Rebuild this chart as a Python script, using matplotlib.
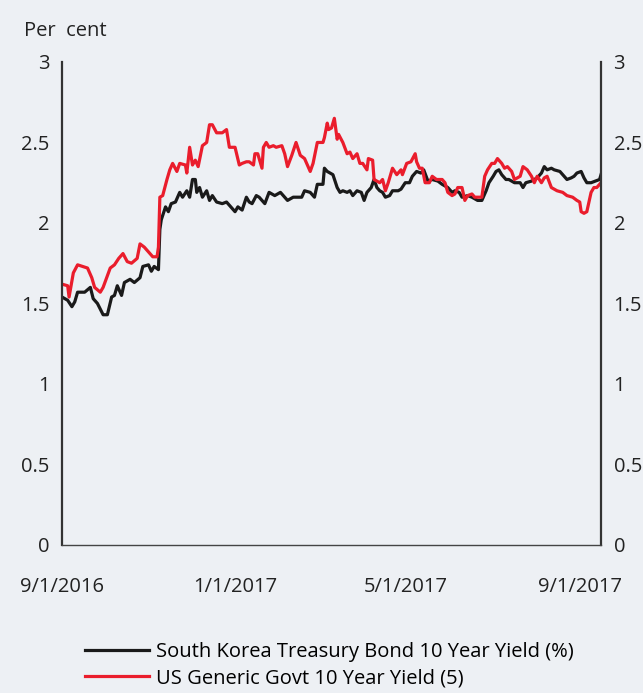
import matplotlib
matplotlib.use('Agg')
import matplotlib.pyplot as plt

# days since 9/1/2016 and yields
korea_days = [0, 4, 7, 9, 11, 16, 20, 22, 25, 29, 32, 35, 37, 39, 42, 44, 48, 51, 55, 57,
              61, 63, 65, 68, 69, 70, 73, 75, 77, 80, 83, 85, 88, 90, 92, 94, 95, 97, 99, 102,
              104, 106, 109, 113, 116, 120, 122, 124, 127, 130, 132, 134, 137, 139, 143, 146, 150, 154, 157, 159,
              163, 166, 169, 171, 175, 178, 180, 184, 185, 187, 191, 194, 196, 198, 201, 203, 205, 208, 211, 213,
              215, 218, 220, 222, 224, 226, 228, 231, 233, 237, 239, 242, 245, 247, 250, 253, 255, 258, 261, 265,
              268, 272, 275, 277, 280, 282, 286, 289, 293, 296, 299, 301, 304, 306, 308, 310, 313, 315, 319, 323,
              325, 327, 331, 333, 335, 338, 340, 342, 345, 347, 351, 354, 356, 359, 361, 363, 366, 368, 370, 373,
              376, 379, 380]
korea_yield = [1.54, 1.52, 1.48, 1.51, 1.57, 1.57, 1.60, 1.53, 1.50, 1.43, 1.43, 1.54, 1.55, 1.61, 1.55, 1.63, 1.65, 1.63, 1.66, 1.73,
               1.74, 1.70, 1.73, 1.71, 1.96, 2.02, 2.10, 2.07, 2.12, 2.13, 2.19, 2.16, 2.20, 2.16, 2.27, 2.27, 2.19, 2.22, 2.16, 2.20,
               2.14, 2.17, 2.13, 2.12, 2.13, 2.09, 2.07, 2.10, 2.08, 2.16, 2.13, 2.12, 2.17, 2.16, 2.12, 2.19, 2.17, 2.19, 2.16, 2.14,
               2.16, 2.16, 2.16, 2.20, 2.19, 2.16, 2.24, 2.24, 2.34, 2.32, 2.30, 2.22, 2.19, 2.20, 2.19, 2.20, 2.17, 2.20, 2.19, 2.14,
               2.19, 2.22, 2.27, 2.22, 2.20, 2.19, 2.16, 2.17, 2.20, 2.20, 2.21, 2.25, 2.25, 2.29, 2.32, 2.31, 2.33, 2.26, 2.27, 2.26,
               2.24, 2.22, 2.19, 2.20, 2.19, 2.16, 2.17, 2.16, 2.14, 2.14, 2.20, 2.25, 2.29, 2.32, 2.33, 2.30, 2.27, 2.27, 2.25, 2.25,
               2.22, 2.25, 2.26, 2.27, 2.28, 2.31, 2.35, 2.33, 2.34, 2.33, 2.32, 2.29, 2.27, 2.28, 2.29, 2.31, 2.32, 2.28, 2.25, 2.25,
               2.26, 2.27, 2.30]

us_days = [0, 4, 5, 8, 11, 18, 21, 23, 27, 29, 34, 37, 40, 43, 46, 49, 53, 55, 58, 61,
           64, 67, 68, 69, 71, 74, 76, 78, 81, 83, 87, 88, 90, 92, 94, 96, 99, 102, 104, 106,
           109, 113, 116, 118, 122, 125, 127, 130, 132, 135, 136, 138, 141, 142, 144, 146, 149, 151, 155, 157,
           159, 162, 165, 168, 171, 175, 177, 180, 184, 185, 187, 188, 190, 192, 194, 195, 198, 201, 203, 205,
           208, 210, 212, 215, 216, 219, 220, 224, 226, 228, 230, 233, 236, 239, 240, 243, 246, 249, 250, 252,
           254, 256, 259, 261, 264, 268, 270, 272, 275, 277, 279, 282, 284, 286, 289, 291, 293, 296, 298, 300,
           303, 305, 307, 310, 312, 314, 317, 319, 323, 325, 328, 331, 333, 335, 338, 340, 342, 345, 347, 349,
           353, 356, 360, 363, 365, 366, 368, 370, 373, 375, 377, 380]
us_yield = [1.62, 1.61, 1.54, 1.69, 1.74, 1.72, 1.66, 1.60, 1.57, 1.60, 1.72, 1.74, 1.78, 1.81, 1.76, 1.75, 1.78, 1.87, 1.85, 1.82,
            1.79, 1.79, 1.85, 2.16, 2.17, 2.27, 2.33, 2.37, 2.32, 2.37, 2.36, 2.31, 2.47, 2.36, 2.39, 2.35, 2.48, 2.50, 2.61, 2.61,
            2.56, 2.56, 2.58, 2.47, 2.47, 2.36, 2.37, 2.38, 2.38, 2.36, 2.43, 2.43, 2.34, 2.47, 2.50, 2.47, 2.48, 2.47, 2.48, 2.43,
            2.35, 2.42, 2.50, 2.42, 2.40, 2.32, 2.37, 2.50, 2.50, 2.53, 2.62, 2.58, 2.59, 2.65, 2.52, 2.55, 2.50, 2.43, 2.44, 2.40,
            2.43, 2.37, 2.37, 2.33, 2.40, 2.39, 2.27, 2.25, 2.27, 2.20, 2.25, 2.34, 2.30, 2.33, 2.30, 2.37, 2.38, 2.43, 2.38, 2.34,
            2.34, 2.25, 2.25, 2.29, 2.27, 2.27, 2.25, 2.19, 2.17, 2.18, 2.22, 2.22, 2.14, 2.17, 2.18, 2.16, 2.16, 2.16, 2.29, 2.33,
            2.37, 2.37, 2.40, 2.37, 2.34, 2.35, 2.32, 2.27, 2.29, 2.35, 2.33, 2.29, 2.25, 2.29, 2.25, 2.28, 2.29, 2.22, 2.21, 2.20,
            2.19, 2.17, 2.16, 2.14, 2.13, 2.07, 2.06, 2.07, 2.19, 2.22, 2.22, 2.25]

tick_days = [0, 122, 242, 365]
tick_labels = ['9/1/2016', '1/1/2017', '5/1/2017', '9/1/2017']
y_ticks = [0, 0.5, 1, 1.5, 2, 2.5, 3]
y_labels = ['0', '0.5', '1', '1.5', '2', '2.5', '3']

bg = '#edf0f4'
fs = 14.5
plt.rcParams['font.family'] = ['Open Sans', 'DejaVu Sans']

fig = plt.figure(figsize=(6.43, 6.93), dpi=100, facecolor=bg)
ax = fig.add_axes([0.0964, 0.2136, 0.8383, 0.6970], facecolor=bg)

ax.plot(korea_days, korea_yield, color='#1a1a1a', linewidth=2.3,
        label='South Korea Treasury Bond 10 Year Yield (%)')
ax.plot(us_days, us_yield, color='#ea1d2c', linewidth=2.3,
        label='US Generic Govt 10 Year Yield (5)')

ax.set_xlim(0, 380)
ax.set_ylim(0, 3)
ax.set_yticks(y_ticks)
ax.set_yticklabels(y_labels)
ax.set_xticks(tick_days)
ax.set_xticklabels(tick_labels)
ax.tick_params(axis='y', length=0, pad=9, labelsize=fs, labelright=True, colors='#222222')
ax.tick_params(axis='x', length=0, pad=23, labelsize=fs, colors='#222222')

ax.spines['top'].set_visible(False)
for s in ['left', 'right']:
    ax.spines[s].set_color('#333333')
    ax.spines[s].set_linewidth(1.6)
ax.spines['bottom'].set_color('#444444')
ax.spines['bottom'].set_linewidth(1.0)

fig.text(24 / 643, 1 - 31 / 693, 'Per  cent', fontsize=fs, va='center', ha='left', color='#222222')

fig.legend(loc='upper left', bbox_to_anchor=(85 / 643, 1 - 642 / 693), frameon=False,
           fontsize=fs, handlelength=3.2, handletextpad=0.35, labelspacing=0.32,
           borderaxespad=0, borderpad=0)

fig.savefig('out.png', dpi=100, facecolor=bg)
